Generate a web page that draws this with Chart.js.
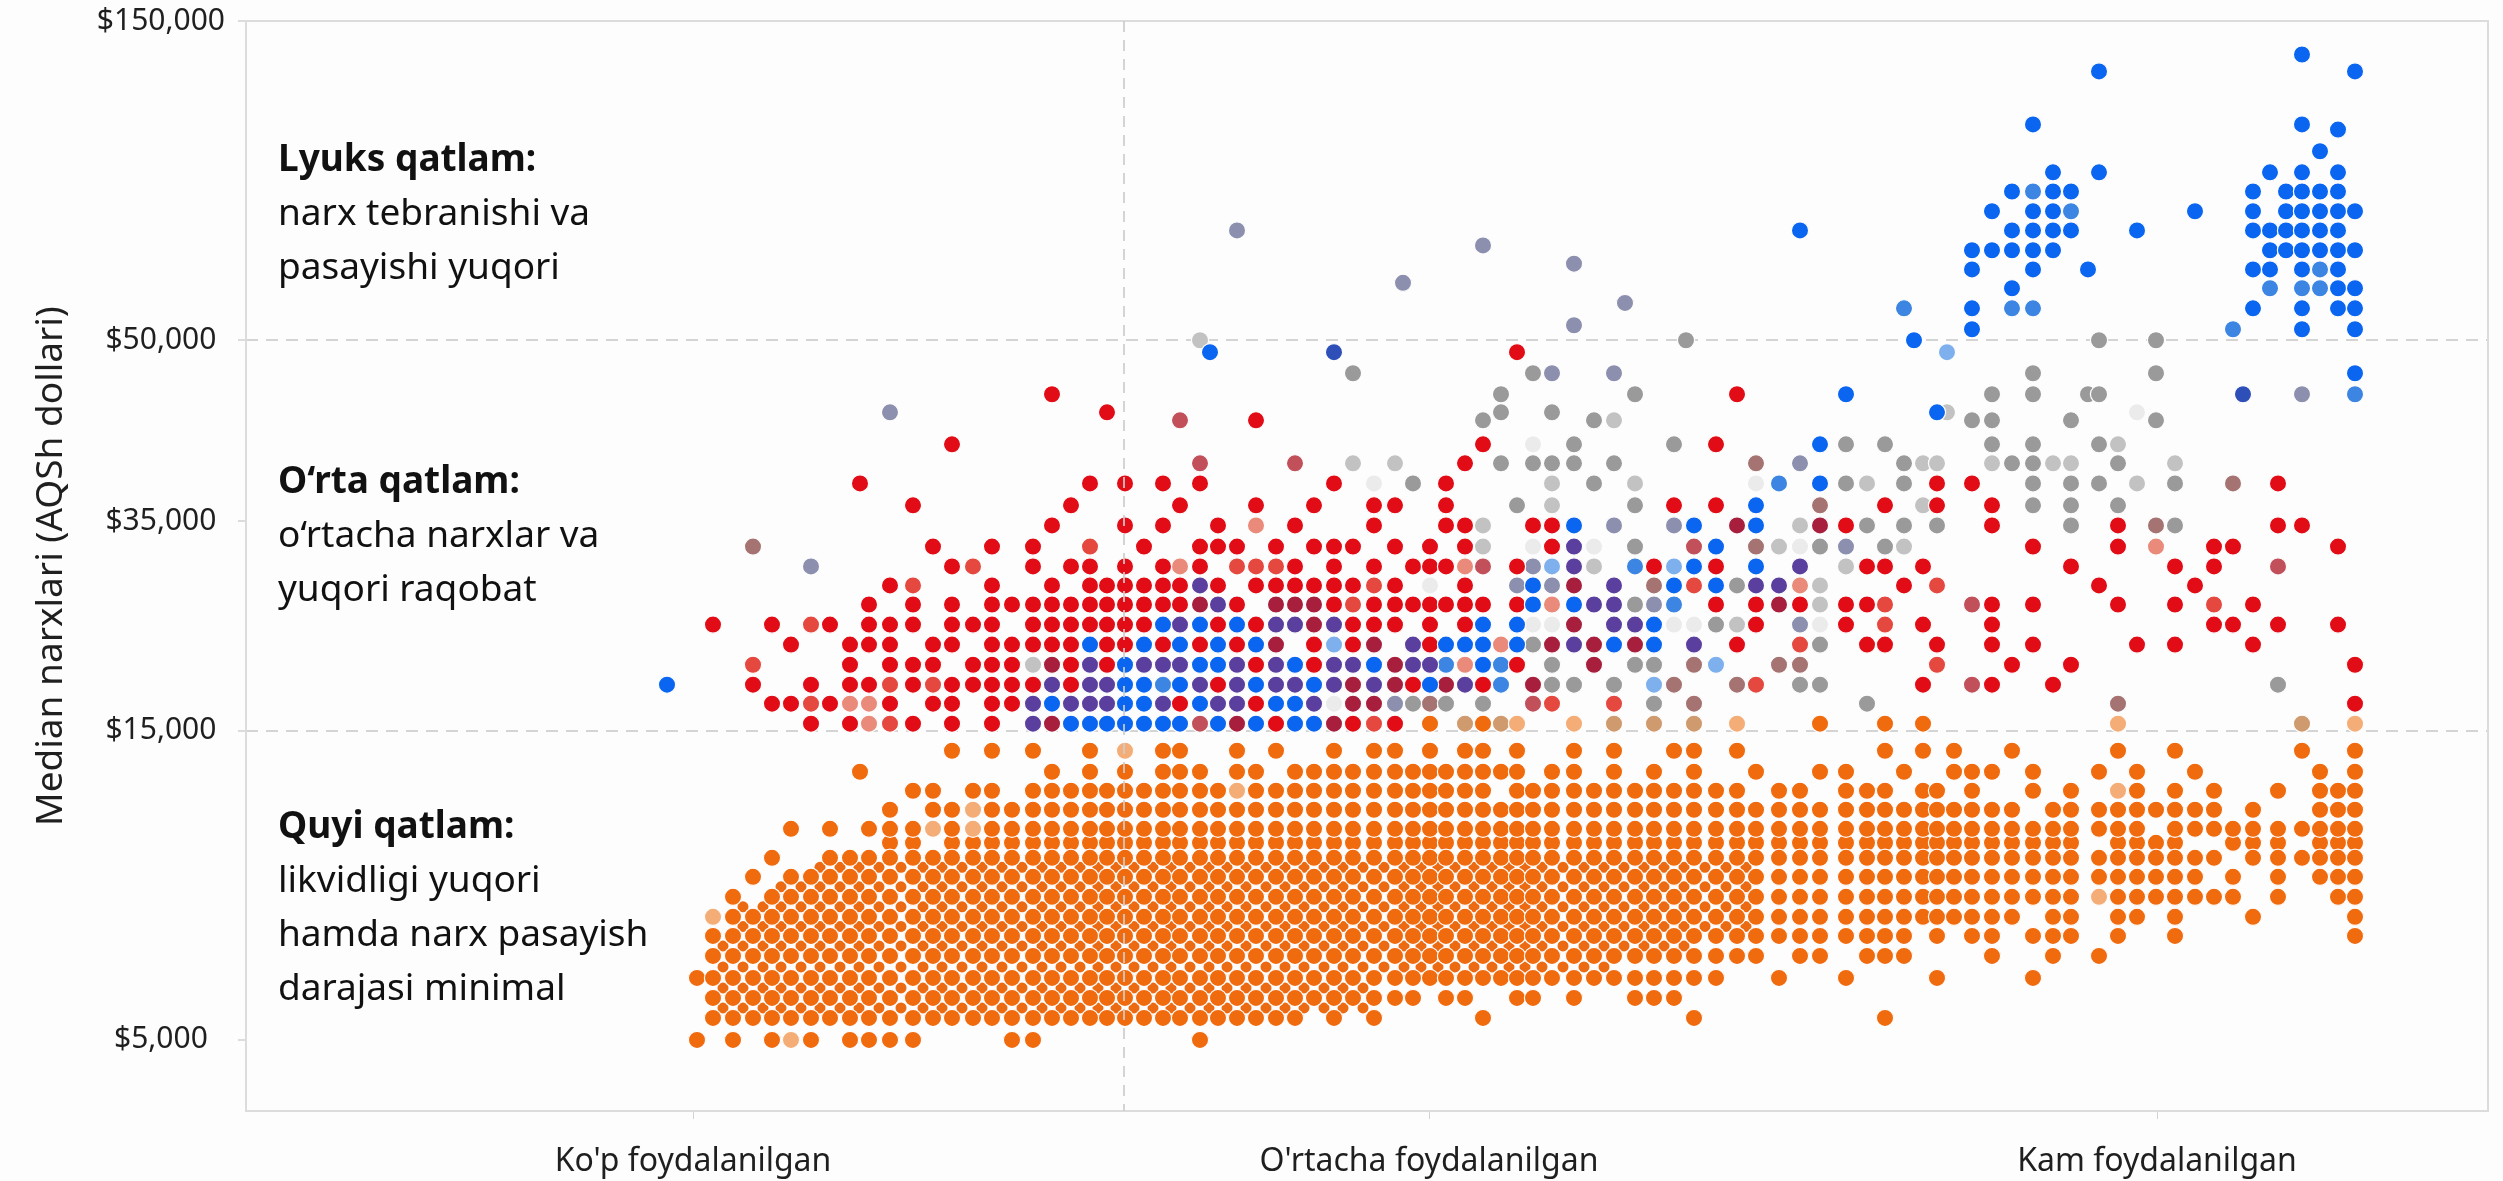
<!DOCTYPE html>
<html lang="uz">
<head>
<meta charset="utf-8">
<title>Median narxlari</title>
<script src="https://cdn.jsdelivr.net/npm/chart.js@4/dist/chart.umd.js"></script>
<style>
html,body{margin:0;padding:0;background:#fdfdfd;}
canvas{display:block;}
</style>
</head>
<body>
<canvas id="c" width="2503" height="1181"></canvas>
<script>
// ---- axis labels ----
const usageLabels = ["Ko'p foydalanilgan", "O'rtacha foydalanilgan", "Kam foydalanilgan"];
const usageTicks = [0, 736, 1464];
const usageSplit = 431;
const priceTicks = [5000, 15000, 35000, 50000, 150000];
const priceGuides = [15000, 50000];
const yTitle = "Median narxlari (AQSh dollari)";

// ---- usage rank of each column of dots ----
const columns = [4,20,40,60,79,98,118,137,157,176,197,220,240,259,280,299,319,340,359,378,397,414,432,451,470,487,507,525,544,563,583,602,621,641,660,681,702,720,737,753,772,790,808,824,840,859,881,901,921,942,961,981,1001,1023,1044,1063,1086,1107,1127,1153,1174,1192,1211,1230,1244,1261,1279,1299,1319,1340,1360,1378,1406,1425,1444,1463,1482,1502,1521,1540,1560,1585,1609,1627,1645,1662,
 -26,1395,1577,1593,1254,1221,1550,710,932,993,517,167];
// ---- median price of each row of dots ----
const prices = [5000,5712,6359,7006,7718,8365,8980,9628,10275,10890,11828,12443,13058,13673,14352,
 15670,17580,19400,21300,23230,25140,27060,28880,30700,32600,34620,36330,38150,39810,41380,43370,45530,47270,49010,
 53440,60000,66300,72200,78200,84400,90400,96600,102600,109200,116000,134200,139500,
 11375,44036,50000,117600,68000,79700,74000,61700,54700];
// prices between the rows and ranks between the columns, for the partly hidden lower layer
const lowerPrices = [6035,6682,7362,8041,8672,9304,9951,10582];
const lowerColumns = [30,50,70,88,108,127,147,166,186,208,230,249,269,289,309,329,349,368,387,405,423,441,460,478,497,516,534,553,573,592,611,631,650,670,691,711,728,745,762,781,799,816,832,849,870,891,911,931,951,971,991,1012,1033,1053];

// ---- series: [row, [column or [from,to], ...]] ----
const lowerLayer = [[0,[[0,33]]],[1,[[0,33]]],[2,[[0,46]]],[3,[[0,50]]],[4,[[1,53]]],[5,[[1,53]]],[6,[[3,53]]],[7,[[5,53]]]];
const hiddenRow = [[47,[10,11,[13,71],[73,76],[79,81],[83,85]]]];
const lowTier = [
 [0,[0,2,4,6,[8,11],16,17,26]],
 [1,[[1,31],33,35,41,52,61]],
 [2,[[1,37],39,40,43,44,46,49,50,51]],
 [3,[[0,53],56,59,64,69]],
 [4,[[1,55],57,58,[60,62],67,70,72]],
 [5,[[1,62],64,66,67,[69,71],73,76,85]],
 [6,[[2,68],70,71,73,74,76,80,85]],
 [7,[2,[4,71],[73,79],81,84,85]],
 [8,[3,[5,77],79,81,[83,85]]],
 [9,[4,[7,78],[80,85]]],
 [10,[5,7,[9,11],13,[15,74],[76,85]]],
 [11,[10,12,13,[15,68],[70,78],80,[83,85]]],
 [12,[11,12,14,15,[17,27],[29,41],[43,54],56,57,[59,61],63,64,66,69,71,74,76,78,81,[83,85]]],
 [13,[97,18,20,22,[24,26],28,29,[31,43],45,46,48,50,52,55,58,59,62,[65,67],69,72,74,77,83,85]],
 [14,[13,15,17,20,24,25,28,30,33,35,36,38,40,41,43,46,48,51,52,54,61,63,65,68,73,76,82,85]],
 [15,[38,41,58,61,63]]
];
const lowPale = [[0,[5]],[6,[1]],[7,[72]],[10,[12,14]],[11,[14]],[12,[28,73]],[14,[22]],[15,[43,46,54,73,85]]];
const lowTan = [[15,[40,42,48,50,52,82]]];
const midRed = [
 [15,[6,8,11,13,15,30,34,36]],
 [16,[4,5,7,10,12,13,15,16,25,29,85]],
 [17,[3,6,8,9,11,13,14,15,16,17,19,27,37,41,63,67,70]],
 [18,[8,10,11,12,14,15,16,19,21,29,32,43,68,71,85]],
 [19,[5,8,9,10,12,13,15,16,17,18,19,21,22,24,26,28,32,34,38,54,60,61,64,67,69,74,76,80]],
 [20,[1,4,7,9,10,11,13,14,15,17,18,19,20,21,22,23,27,29,34,35,36,38,40,55,59,63,67,78,79,81,84]],
 [21,[9,11,13,15,16,17,18,19,20,21,22,23,24,25,28,33,35,36,37,38,39,40,41,43,53,55,57,59,60,67,69,73,76,80]],
 [22,[10,15,18,20,21,22,23,24,25,27,29,30,31,32,33,34,36,40,62,72,77]],
 [23,[13,17,19,20,22,24,26,31,33,35,37,38,39,43,50,53,60,61,63,71,76,78]],
 [24,[12,15,17,23,26,27,28,30,32,33,34,36,38,40,45,69,73,78,79,84]],
 [25,[18,22,24,27,31,35,39,40,44,45,59,67,73,81,82]],
 [26,[11,19,25,29,32,35,36,39,51,53,61,64,67]],
 [27,[97,20,22,24,26,33,39,64,66,81]],
 [28,[40]],
 [29,[13,41,53]],
 [30,[29]],
 [48,[21]],
 [31,[18,54]],
 [33,[43]]
];
const midLight = [[15,[10,35]],[16,[6,45,48]],[17,[10,12,55]],[18,[3,64]],[19,[57]],[20,[6,61]],[21,[34,61,78]],[22,[11,35,52,64]],[23,[14,28,29,30]],[24,[20]]];
const midSalmon = [[15,[9]],[16,[8,9]],[19,[42]],[18,[40]],[21,[45]],[22,[57]],[23,[25,40]],[24,[75]],[25,[29]]];
const midRose = [[15,[26]],[16,[44]],[17,[66]],[21,[66]],[23,[41,81]],[24,[52]],[28,[26,31]],[30,[25]]];
const midCrimson = [[15,[18,28,33]],[16,[34,35]],[17,[34,36,39,44]],[18,[18,36,47]],[19,[30,35,45,47,49]],[20,[32,46]],[21,[26,30,31,32,56]],[22,[46]],[25,[54,58]]];
const mixedPurple = [[15,[17]],[16,[17,19,20,21,24,27,28,32]],[17,[18,20,21,26,28,30,31,33,35,40]],[18,[20,23,24,25,28,30,33,34,37,38]],[19,[37,46,52]],[20,[25,30,31,33,48,49]],[21,[27,47,48]],[22,[26,48,55,56]],[23,[46,57]],[24,[46]]];
const indigo = [[31,[92]],[33,[33]]];
const highBlue = [
 [15,[19,20,21,22,23,24,25,27,29,31,32]],
 [16,[18,22,23,26,30,31]],
 [17,[22,23,25,29,32,38,86]],
 [18,[22,26,27,31,35,41]],
 [19,[20,23,25,27,29,39,40,41,43,48,50]],
 [20,[24,26,28,41,43,50]],
 [21,[44,46]],
 [22,[44,51,53]],
 [23,[52,55]],
 [24,[53]],
 [25,[46,52,55]],
 [26,[55]],
 [27,[58]],
 [29,[58]],
 [31,[59]],
 [32,[85]],
 [48,[64]],
 [33,[96]],
 [49,[91]],
 [34,[66,82,85]],
 [35,[66,80,82,84,85]],
 [36,[68,84,85]],
 [37,[66,69,87,80,88,82,84]],
 [38,[66,67,68,69,70,88,89,82,83,84,85]],
 [39,[57,68,69,70,71,74,80,88,89,82,83,84]],
 [40,[67,69,70,77,80,89,82,83,84,85]],
 [41,[68,70,71,80,89,82,83,84]],
 [42,[70,72,88,82,84]],
 [43,[83]],
 [44,[84]],
 [50,[69,82]],
 [45,[72,85]],
 [46,[82]]
];
const midBlue = [[17,[24,42]],[18,[39,42]],[21,[51]],[23,[49]],[31,[85]],[34,[79]],[35,[62,68,69]],[36,[82,83,88]],[37,[83]],[40,[71]],[41,[69]],[27,[56]]];
const lightBlue = [[19,[33]],[17,[50]],[18,[53]],[23,[45,51]],[33,[90]]];
const grayBlue = [[16,[36]],[20,[57]],[21,[50]],[22,[43,45]],[23,[6,44]],[24,[59]],[25,[48,51]],[28,[57]],[48,[10]],[31,[82]],[32,[45,48]],[39,[28]],[51,[93]],[52,[41]],[53,[46]],[54,[94]],[55,[46]]];
const gray = [[16,[37,39,41,50,60]],[17,[45,46,48,57,58,81]],[18,[45,49,50]],[19,[44,58]],[20,[53]],[21,[49]],[22,[54]],[24,[49,58,61]],[25,[60,62,64,71,76]],[26,[43,49,69,71,73]],[27,[37,47,59,62,69,71,72,76]],[28,[42,44,45,46,48,62,68,69,73]],[29,[46,51,59,61,67,69,72]],[30,[41,47,66,67,71,75]],[48,[42,45]],[31,[42,49,67,69,87,72]],[32,[34,44,69,75]],[49,[95,72,75]]];
const lightGray = [[18,[17]],[20,[54]],[21,[58]],[22,[58]],[23,[47,59]],[24,[41,56,62]],[25,[41,57]],[26,[45,63]],[27,[45,49,60,74]],[28,[34,36,63,64,67,70,71,76]],[29,[73]],[30,[48]],[48,[90]],[49,[26]]];
const faintGray = [[16,[33]],[20,[44,45,51,52,58]],[22,[38]],[24,[44,47,57]],[27,[35,55]],[29,[44]],[48,[74]]];
const roseGray = [[16,[38,52,73]],[17,[51,54]],[18,[52,56,57]],[22,[50]],[24,[3,55]],[25,[75]],[26,[58]],[27,[79]],[28,[55]]];

// ---- colours ----
const ORANGE='#f06a0e', RED='#e20c17';

// expand [row,[cols]] lists into points through the data arrays
function pointsOf(list, xs, ys){
  const out=[];
  for(const [r,cols] of list){
    for(const c of cols){
      const from=Array.isArray(c)?c[0]:c, to=Array.isArray(c)?c[1]:c;
      for(let i=from;i<=to;i++) out.push({x:xs[i],y:ys[r]});
    }
  }
  return out;
}
function series(label,list,color){
  return {label,data:pointsOf(list,columns,prices),backgroundColor:color,borderColor:'#fdfdfd',borderWidth:1.2,pointRadius:8.6,pointHoverRadius:8.6};
}

// piecewise price axis, as in the original chart
const priceKnots=[[2730,0],[5000,0.0652],[15000,0.3489],[35000,0.5409],[50000,0.7071],[150000,1]];
class TierScale extends Chart.LinearScale{
  getPixelForValue(v){
    const k=priceKnots;
    let i=0;
    while(i<k.length-2 && v>k[i+1][0]) i++;
    const d=k[i][1]+(v-k[i][0])/(k[i+1][0]-k[i][0])*(k[i+1][1]-k[i][1]);
    return this.getPixelForDecimal(d);
  }
}
TierScale.id='tier';
TierScale.defaults=Chart.LinearScale.defaults;
Chart.register(TierScale);

const FONT='"Noto Sans", sans-serif';
const notes=[
 {x:-415,price:106400,lines:["Lyuks qatlam:","narx tebranishi va","pasayishi yuqori"]},
 {x:-415,price:38200,lines:["O\u2018rta qatlam:","o\u2018rtacha narxlar va","yuqori raqobat"]},
 {x:-415,price:11860,lines:["Quyi qatlam:","likvidligi yuqori","hamda narx pasayish","darajasi minimal"]}
];
const overlay={
  id:'overlay',
  beforeDatasetsDraw(chart){
    const {ctx,chartArea:a}=chart;
    ctx.save();
    ctx.strokeStyle='#dcdcdc';ctx.lineWidth=2;
    ctx.strokeRect(a.left,a.top,a.right-a.left,a.bottom-a.top);
    ctx.restore();
  },
  afterDatasetsDraw(chart){
    const {ctx,chartArea:a,scales:{x,y}}=chart;
    ctx.save();
    ctx.strokeStyle='rgba(205,205,205,0.85)';ctx.lineWidth=2;ctx.setLineDash([11,8]);
    const px=x.getPixelForValue(usageSplit);
    ctx.beginPath();ctx.moveTo(px,a.top);ctx.lineTo(px,a.bottom);ctx.stroke();
    ctx.setLineDash([]);
    ctx.textBaseline='middle';ctx.textAlign='left';
    for(const n of notes){
      const left=x.getPixelForValue(n.x);
      const top=y.getPixelForValue(n.price);
      n.lines.forEach((t,i)=>{
        ctx.font=(i===0?'bold ':'')+'37px '+FONT;
        ctx.fillStyle='#111';
        ctx.fillText(t,left,top+i*54);
      });
    }
    ctx.restore();
  }
};

new Chart(document.getElementById('c'),{
  type:'scatter',
  data:{datasets:[
    series('Lyuks',highBlue,'#0a66f0'),
    series('O‘rta',midRed,RED),
    series('Quyi',lowTier,ORANGE),
    series('Quyi och',lowPale,'#f4ad76'),
    series('Quyi aralash',lowTan,'#cf9a6e'),
    series('O‘rta och',midLight,'#e5483f'),
    series('O‘rta pushti',midSalmon,'#ea8a7a'),
    series('O‘rta gul',midRose,'#c2505a'),
    series('O‘rta to‘q',midCrimson,'#a81f3e'),
    series('Aralash',mixedPurple,'#5b3f9f'),
    series('Indigo',indigo,'#2e4fb8'),
    series('Moviy',midBlue,'#3c85e2'),
    series('Och moviy',lightBlue,'#7fb0ee'),
    series('Kulrang moviy',grayBlue,'#8c90ae'),
    series('Kulrang',gray,'#9a9a9a'),
    series('Och kulrang',lightGray,'#c2c2c2'),
    series('Xira',faintGray,'#ebebeb'),
    series('Jigarrang',roseGray,'#a57472'),
    series('Yashirin qator',hiddenRow,ORANGE),
    {label:'Quyi pastki',data:pointsOf(lowerLayer,lowerColumns,lowerPrices),backgroundColor:'#ec6a12',borderWidth:0,pointRadius:5.5,pointHoverRadius:5.5}
  ]},
  options:{
    responsive:false,animation:false,
    layout:{padding:{top:21,right:15,left:0,bottom:0}},
    plugins:{legend:{display:false},tooltip:{enabled:false}},
    events:[],
    scales:{
      x:{type:'linear',min:-447,max:1795,
        afterBuildTicks(s){s.ticks=usageTicks.map(v=>({value:v}));},
        afterFit(s){s.height=70;s.paddingLeft=0;s.paddingRight=0;},
        ticks:{autoSkip:false,maxRotation:0,padding:24,color:'#1f1f1f',font:{family:FONT,size:32},
          callback(v){return usageLabels[usageTicks.indexOf(v)];}},
        grid:{drawOnChartArea:false,drawTicks:true,tickLength:8,color:'#d4d4d4',tickColor:'#d4d4d4'},
        border:{display:false}
      },
      y:{type:'tier',min:2730,max:150000,
        afterBuildTicks(s){s.ticks=priceTicks.map(v=>({value:v}));},
        afterFit(s){s.width=246;s.paddingTop=0;s.paddingBottom=0;},
        title:{display:true,text:yTitle,color:'#1f1f1f',font:{family:FONT,size:37},padding:{top:29,bottom:0}},
        ticks:{autoSkip:false,crossAlign:'center',padding:13,color:'#1f1f1f',font:{family:FONT,size:30},
          callback(v){return '$'+v.toLocaleString('en-US');}},
        grid:{drawTicks:true,tickLength:8,lineWidth:2,tickWidth:2,tickColor:'#dcdcdc',
          color(c){return c.tick&&priceGuides.includes(c.tick.value)?'#d4d4d4':'rgba(0,0,0,0)';}},
        border:{display:false,dash:[12,8]}
      }
    }
  },
  plugins:[overlay]
});
</script>
</body>
</html>
